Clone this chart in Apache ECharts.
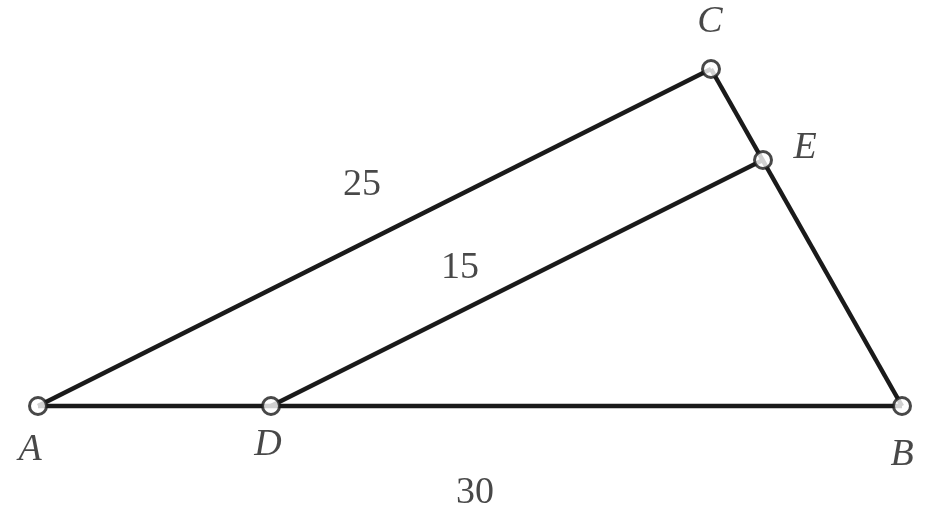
<!DOCTYPE html>
<html><head><meta charset="utf-8">
<script src="https://cdn.jsdelivr.net/npm/echarts@6/dist/echarts.min.js"></script>
<style>html,body{margin:0;padding:0;background:#fff}#c{width:929px;height:522px}</style>
</head><body><div id="c"></div>
<script>
const pointNames = ['A','D','B','C','E'];
const pointCoords = [[38,406],[271,406],[902,406],[711,69],[763,160]];
const segments = [['A','B'],['A','C'],['C','B'],['D','E']];
const pointLabels = [['A',30,450],['D',268,445],['B',902,455],['C',710,22],['E',805,148]];
const lengthLabels = [['25',362,185],['15',460,268],['30',475,493]];

const P = {}; pointNames.forEach((n,i)=>P[n]=pointCoords[i]);
const series = segments.map(s=>({type:'line',data:[P[s[0]],P[s[1]]],symbol:'none',
  lineStyle:{color:'#1a1a1a',width:4.5},silent:true,z:2}));
series.push({type:'scatter',data:pointCoords,symbol:'circle',symbolSize:17,
  itemStyle:{color:'#fff',borderColor:'#1a1a1a',borderWidth:3},z:5});
series.push({type:'scatter',data:pointLabels.map(l=>({value:[l[1],l[2]],name:l[0]})),symbolSize:0,
  label:{show:true,position:'inside',formatter:p=>p.name,fontFamily:'Liberation Serif',fontStyle:'italic',fontSize:38,color:'#1a1a1a'}});
series.push({type:'scatter',data:lengthLabels.map(l=>({value:[l[1],l[2]],name:l[0]})),symbolSize:0,
  label:{show:true,position:'inside',formatter:p=>p.name,fontFamily:'Liberation Serif',fontSize:38,color:'#1a1a1a'}});
const chart = echarts.init(document.getElementById('c'));
chart.setOption({animation:false,
  grid:{left:0,right:0,top:0,bottom:0},
  xAxis:{type:'value',min:0,max:929,show:false},
  yAxis:{type:'value',min:0,max:522,inverse:true,show:false},
  series});
</script></body></html>
